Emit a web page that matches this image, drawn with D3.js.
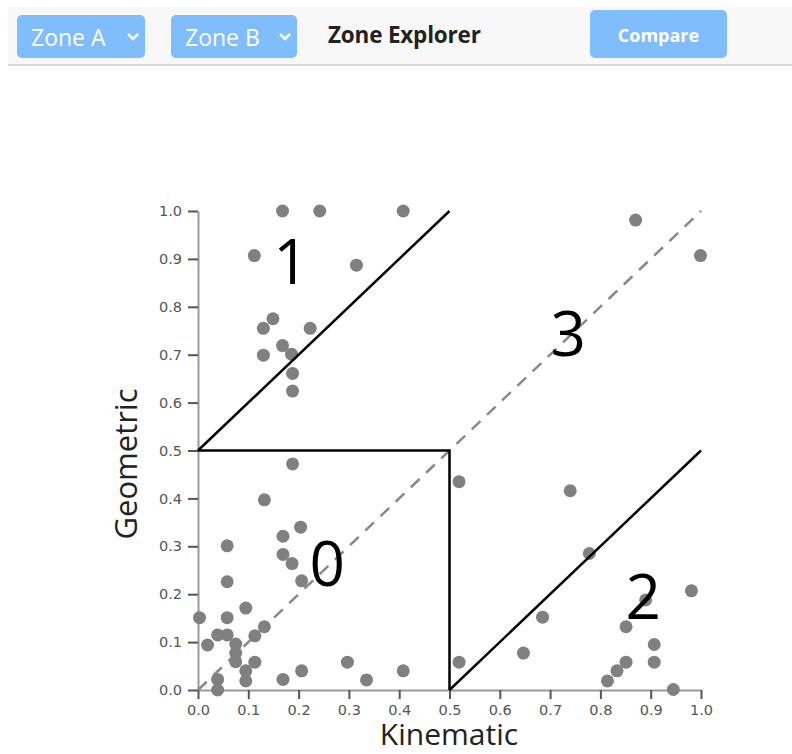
<!DOCTYPE html>
<html>
<head>
<meta charset="utf-8">
<script src="https://cdn.jsdelivr.net/npm/d3@7"></script>
<style>
  body { margin: 0; font-family: "Open Sans", "Noto Sans", sans-serif; background: #fff; }
  #page { position: relative; width: 792px; height: 754px; overflow: hidden; }
  #bar { position: absolute; left: 8px; top: 7px; width: 784px; height: 57px;
         background: #f8f8f8; border-bottom: 2px solid #dcdcdc; }
  .pick, .btn { position: absolute; background: #80bdfc; color: #fff; border-radius: 5px; }
  .pick { top: 8px; height: 43px; line-height: 44px; font-size: 23px; padding-left: 14px; box-sizing: border-box; }
  .pick svg { position: absolute; top: 17px; }
  .btn { left: 582px; top: 3px; width: 137px; height: 48px; line-height: 50px; text-align: center;
         font-size: 18px; font-weight: 700; }
  #title { position: absolute; left: 320px; top: 12px; font-size: 22.5px; font-weight: 700; color: #222; letter-spacing: -0.2px; }
  #chart { position: absolute; left: 0; top: 0; }
</style>
</head>
<body>
<div id="page">
  <div id="bar">
    <div class="pick" style="left:9px;width:128px;">Zone A
      <svg width="14" height="10" style="left:109px"><polyline points="2,2 7,7 12,2" fill="none" stroke="#fff" stroke-width="2.5"/></svg></div>
    <div class="pick" style="left:163px;width:126px;">Zone B
      <svg width="14" height="10" style="left:107px"><polyline points="2,2 7,7 12,2" fill="none" stroke="#fff" stroke-width="2.5"/></svg></div>
    <div id="title">Zone Explorer</div>
    <div class="btn">Compare</div>
  </div>
  <div id="chart"></div>
</div>
<script>
let w = 792;
let h = 754;

// kinematic (x) and geometric (y) score of each sample
let kinematic = [
  0.188, 0.132, 0.204, 0.169, 0.058, 0.169, 0.187, 0.058, 0.206, 0.095,
  0.003, 0.058, 0.132, 0.039, 0.058, 0.113, 0.019, 0.075, 0.075, 0.075,
  0.113, 0.095, 0.095, 0.039, 0.039, 0.169, 0.206, 0.297, 0.335, 0.408,
  0.519, 0.519,
  0.168, 0.242, 0.408, 0.112, 0.315, 0.149, 0.130, 0.223, 0.168, 0.130,
  0.186, 0.188, 0.188,
  0.740, 0.778, 0.981, 0.890, 0.685, 0.851, 0.907, 0.647, 0.851, 0.907,
  0.833, 0.814, 0.945, 0.870, 0.999
];
let geometric = [
  0.472, 0.397, 0.340, 0.321, 0.301, 0.283, 0.264, 0.226, 0.228, 0.171,
  0.151, 0.151, 0.132, 0.115, 0.115, 0.113, 0.094, 0.096, 0.077, 0.059,
  0.058, 0.040, 0.019, 0.022, 0.000, 0.022, 0.040, 0.058, 0.021, 0.040,
  0.435, 0.058,
  1.000, 1.000, 1.000, 0.907, 0.887, 0.775, 0.755, 0.755, 0.719, 0.699,
  0.701, 0.661, 0.624,
  0.416, 0.285, 0.207, 0.188, 0.152, 0.132, 0.095, 0.077, 0.058, 0.058,
  0.040, 0.019, 0.001, 0.981, 0.907
];

let zoneNames = ["0", "1", "2", "3"];
let zoneX = [0.257, 0.185, 0.885, 0.736];
let zoneY = [0.268, 0.898, 0.198, 0.748];

// zone borders
let borders = [
  [[0, 0.5], [0.5, 1]],
  [[0, 0.5], [0.5, 0.5], [0.5, 0]],
  [[0.5, 0], [1, 0.5]]
];
let diagonal = [[0, 0], [1, 1]];

let ticks = [0, 0.1, 0.2, 0.3, 0.4, 0.5, 0.6, 0.7, 0.8, 0.9, 1.0];

let viz = d3.select("#chart")
  .append("svg")
    .attr("width", w)
    .attr("height", h)
;

let xScale = d3.scaleLinear().domain([0, 1]).range([198, 701]);
let yScale = d3.scaleLinear().domain([0, 1]).range([690, 211]);

let line = d3.line()
  .x(function(d){ return xScale(d[0]); })
  .y(function(d){ return yScale(d[1]); });

function styleAxis(g){
  g.select(".domain").attr("stroke", "#999").attr("stroke-width", 2);
  g.selectAll(".tick line").attr("stroke", "#555").attr("stroke-width", 2);
  g.selectAll(".tick text").attr("fill", "#555").style("font-size", "14.5px")
    .style("font-family", "'DejaVu Sans', Verdana, sans-serif");
}

let xAxis = d3.axisBottom(xScale).tickValues(ticks).tickFormat(d3.format(".1f"))
  .tickSize(9).tickPadding(6).tickSizeOuter(0);
let yAxis = d3.axisLeft(yScale).tickValues(ticks).tickFormat(d3.format(".1f"))
  .tickSize(10).tickPadding(6).tickSizeOuter(0);

viz.append("g").attr("transform", "translate(0,690)").call(xAxis).call(styleAxis);
viz.append("g").attr("transform", "translate(198,0)").call(yAxis).call(styleAxis);

viz.append("path")
  .attr("d", line(diagonal))
  .attr("fill", "none")
  .attr("stroke", "#888")
  .attr("stroke-width", 2.5)
  .attr("stroke-dasharray", "12,9");

let points = kinematic.map(function(k, i){ return { x: k, y: geometric[i] }; });

viz.selectAll(".dot").data(points).enter()
  .append("circle")
    .attr("class", "dot")
    .attr("cx", function(d){ return xScale(d.x); })
    .attr("cy", function(d){ return yScale(d.y); })
    .attr("r", 6.5)
    .attr("fill", "#808080");

viz.selectAll(".border").data(borders).enter()
  .append("path")
    .attr("class", "border")
    .attr("d", line)
    .attr("fill", "none")
    .attr("stroke", "#000")
    .attr("stroke-width", 2.5);

viz.selectAll(".zone").data(zoneNames).enter()
  .append("text")
    .attr("class", "zone")
    .text(function(d){ return d; })
    .attr("x", function(d, i){ return xScale(zoneX[i]); })
    .attr("y", function(d, i){ return yScale(zoneY[i]); })
    .attr("text-anchor", "middle")
    .attr("dominant-baseline", "central")
    .style("font-size", "62px")
    .style("font-family", "'Open Sans', sans-serif")
    .attr("fill", "#000");

viz.append("text")
  .text("Kinematic")
  .attr("x", 449)
  .attr("y", 745)
  .attr("text-anchor", "middle")
  .style("font-size", "30px")
  .attr("fill", "#222");

viz.append("text")
  .text("Geometric")
  .attr("transform", "translate(137,464) rotate(-90)")
  .attr("text-anchor", "middle")
  .style("font-size", "31px")
  .attr("fill", "#222");
</script>
</body>
</html>
